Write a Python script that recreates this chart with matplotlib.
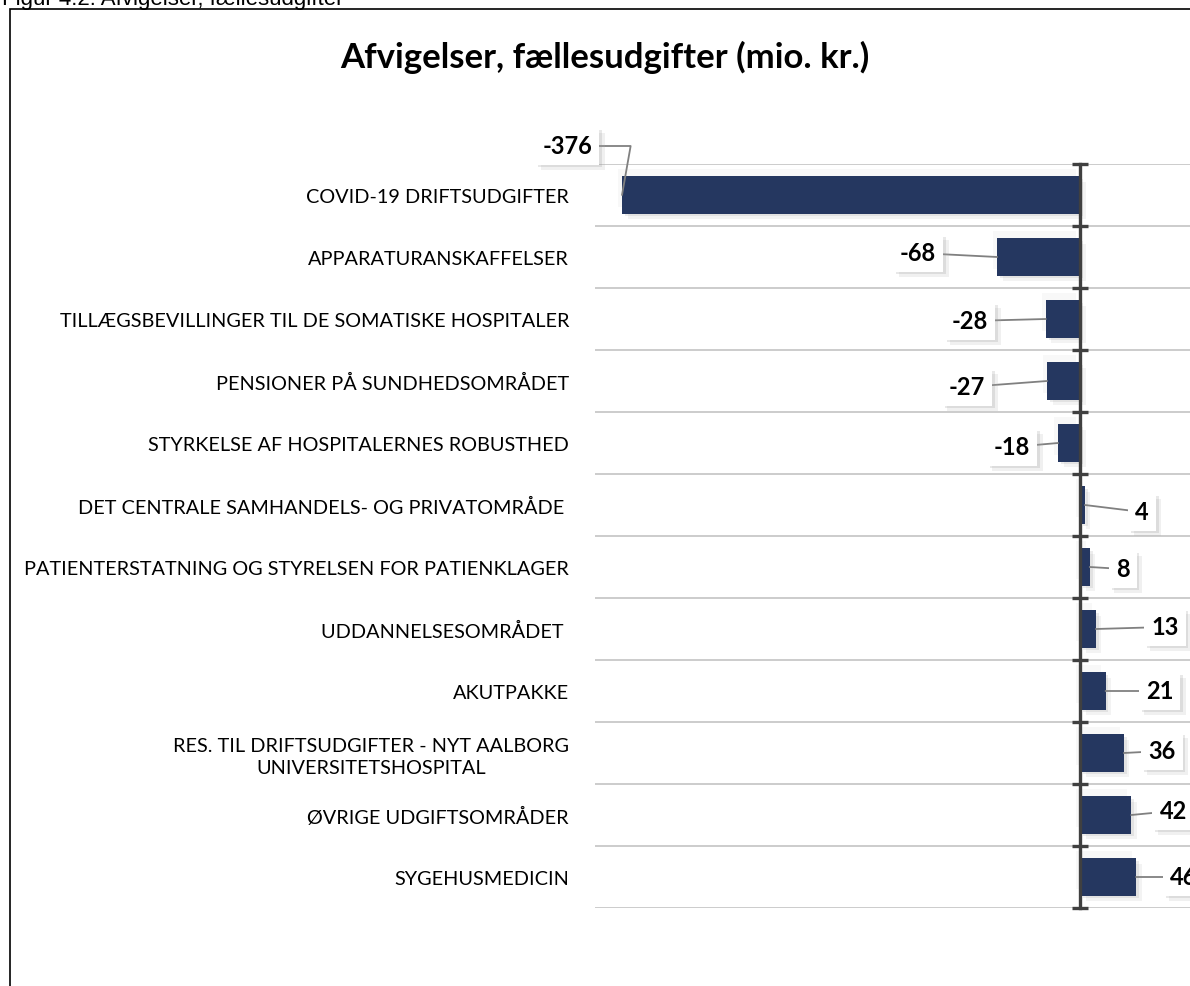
import matplotlib
matplotlib.use("Agg")
import matplotlib.pyplot as plt
import matplotlib.patheffects as pe
from matplotlib.patches import Rectangle

# data
categories = [
    "COVID-19 DRIFTSUDGIFTER",
    "APPARATURANSKAFFELSER",
    "TILLÆGSBEVILLINGER TIL DE SOMATISKE HOSPITALER",
    "PENSIONER PÅ SUNDHEDSOMRÅDET",
    "STYRKELSE AF HOSPITALERNES ROBUSTHED",
    "DET CENTRALE SAMHANDELS- OG PRIVATOMRÅDE ",
    "PATIENTERSTATNING OG STYRELSEN FOR PATIENKLAGER",
    "UDDANNELSESOMRÅDET ",
    "AKUTPAKKE",
    "RES. TIL DRIFTSUDGIFTER - NYT AALBORG\nUNIVERSITETSHOSPITAL",
    "ØVRIGE UDGIFTSOMRÅDER",
    "SYGEHUSMEDICIN",
]
values = [-376, -68, -28, -27, -18, 4, 8, 13, 21, 36, 42, 46]

# where each data label box sits relative to its bar end (pixels, y up)
label_offsets = [(-55, 49), (-79, 4), (-76, -2), (-80, -6), (-46, -4), (57, -7),
                 (33, -2), (69, 2), (54, 0), (38, 2), (42, 4), (48, 0)]

W, H = 1190, 987
BAR = "#253760"
AXIS = "#404040"

fig = plt.figure(figsize=(W / 100, H / 100), dpi=100)

# page frame + cut-off figure caption
fig.patches.append(Rectangle((9.5 / W, -0.1), 1.2, 1.1 - 10 / H, transform=fig.transFigure,
                             fill=False, ec="black", lw=1.2))
fig.text(2 / W, 1 - 5 / H, "Figur 4.2: Afvigelser, fællesudgifter", family="Liberation Sans",
         fontsize=16, va="baseline", ha="left")

fig.text(605 / W, 1 - 57 / H, "Afvigelser, fællesudgifter (mio. kr.)", family="Lato",
         fontweight="bold", fontsize=25, ha="center", va="center")

# plot area runs past the right edge like the cropped original
left_px, right_px, top_px, bot_px = 595, 1300, 165, 909
ax = fig.add_axes([left_px / W, 1 - bot_px / H, (right_px - left_px) / W, (bot_px - top_px) / H])
zero_px = 1080
scale = (zero_px - 622) / 376.0
ax.set_xlim(-(zero_px - left_px) / scale, (right_px - zero_px) / scale)

y = list(range(len(categories)))
bars = ax.barh(y, values, height=0.6, color=BAR, zorder=3)
for b in bars:
    b.set_path_effects([
        pe.SimplePatchShadow(offset=(4, -4), shadow_rgbFace="#b0b0b0", alpha=0.15),
        pe.SimplePatchShadow(offset=(-3, 5), shadow_rgbFace="#c8c8c8", alpha=0.12),
        pe.SimplePatchShadow(offset=(2, -2), shadow_rgbFace="#a0a0a0", alpha=0.2),
        pe.Normal()])
ax.set_ylim(len(categories) - 0.5, -0.5)

for s in ["top", "right", "bottom"]:
    ax.spines[s].set_visible(False)
ax.spines["left"].set_position(("data", 0))
ax.spines["left"].set_color(AXIS)
ax.spines["left"].set_linewidth(2.4)
ax.spines["left"].set_zorder(4)
ax.set_xticks([])

ax.set_yticks(y)
ax.set_yticklabels(categories, family="Lato", fontsize=14.3)
ax.set_yticks([i - 0.5 for i in range(len(categories) + 1)], minor=True)
ax.tick_params(axis="y", which="major", length=0, pad=(zero_px - 569) * 0.72)
ax.tick_params(axis="y", which="minor", direction="inout", length=12, width=2.4, color=AXIS)
ax.grid(which="minor", axis="y", color="#c8c8c8", lw=1.3, zorder=0)
for lbl in ax.get_yticklabels():
    if "\n" in lbl.get_text():
        lbl.set_multialignment("center")
        lbl.set_linespacing(1.3)

for i, (v, off) in enumerate(zip(values, label_offsets)):
    conn = "angle,angleA=0,angleB=80,rad=0" if abs(off[1]) > 20 else "arc3"
    t = ax.annotate(str(v), xy=(v, i), xytext=off, textcoords="offset pixels",
                    ha="center", va="center", family="Lato", fontweight="bold", fontsize=17,
                    bbox=dict(boxstyle="square,pad=0.3", fc="white", ec="none"),
                    arrowprops=dict(arrowstyle="-", color="#808080", lw=1.3,
                                    shrinkA=0, shrinkB=0, connectionstyle=conn),
                    zorder=5)
    t.get_bbox_patch().set_path_effects([
        pe.SimplePatchShadow(offset=(4, -4), shadow_rgbFace="#b0b0b0", alpha=0.18),
        pe.SimplePatchShadow(offset=(2, -2), shadow_rgbFace="#909090", alpha=0.2),
        pe.Normal()])

fig.savefig("out.png", dpi=100)
